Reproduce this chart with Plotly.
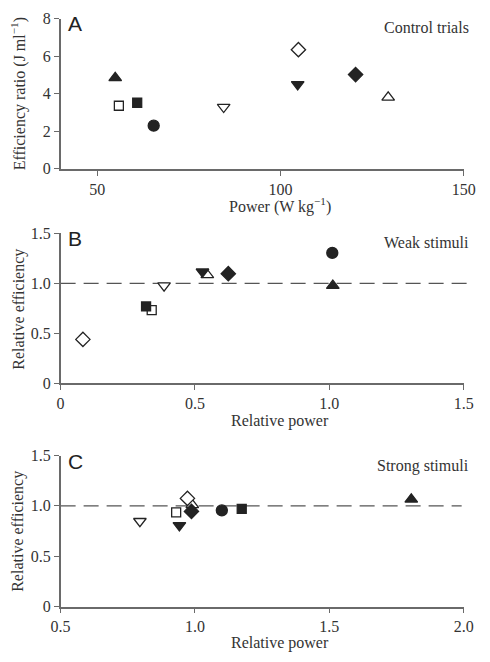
import plotly.graph_objects as go

# symbols for the nine subjects (same order in every panel)
symbols = ['triangle-up', 'square', 'square', 'circle', 'triangle-down',
           'diamond', 'triangle-down', 'diamond', 'triangle-up']
filled = [True, False, True, True, False, False, True, True, False]

# Panel A: control trials
a_power = [54.9, 55.9, 60.9, 65.4, 84.5, 104.9, 104.7, 120.5, 129.4]
a_eff = [4.85, 3.36, 3.52, 2.30, 3.29, 6.35, 4.50, 5.02, 3.81]

# Panel B: weak stimuli
b_power = [1.013, 0.339, 0.318, 1.011, 0.385, 0.083, 0.528, 0.624, 0.546]
b_eff = [0.977, 0.733, 0.770, 1.305, 0.977, 0.440, 1.116, 1.097, 1.084]

# Panel C: strong stimuli
c_power = [1.805, 0.930, 1.174, 1.100, 0.795, 0.972, 0.942, 0.987, 0.990]
c_eff = [1.065, 0.935, 0.970, 0.955, 0.847, 1.074, 0.805, 0.945, 1.010]

ref_level = 1.0

DARK = '#232323'
AX = '#6a6a6a'
SERIF = 'Liberation Serif'
FS = 16
W, H = 490.0, 662.0

fig = go.Figure()

sizes = {'circle': 11, 'square': 9, 'triangle-up': 11, 'triangle-down': 11, 'diamond': 11}

# draw order: open markers first, filled on top
order = [1, 4, 5, 8, 0, 2, 3, 6, 7]
order_c = [8, 1, 4, 5, 0, 2, 3, 6, 7]

panels = [('x', 'y', a_power, a_eff, order),
          ('x2', 'y2', b_power, b_eff, order),
          ('x3', 'y3', c_power, c_eff, order_c)]

for xa, ya, xs, ys, ordr in panels:
    for i in ordr:
        s = symbols[i]
        fig.add_trace(go.Scatter(
            x=[xs[i]], y=[ys[i]], xaxis=xa, yaxis=ya, mode='markers',
            marker=dict(symbol=s, size=sizes[s],
                        color=DARK if filled[i] else 'white',
                        line=dict(color=DARK, width=1.3)),
            showlegend=False, hoverinfo='x+y'))

# dashed reference lines at relative efficiency 1.0 (B and C)
for yref, xref, x1 in [('y2', 'x2 domain', 1.025), ('y3', 'x3 domain', 0.995)]:
    fig.add_shape(type='line', xref=xref, yref=yref, x0=0, x1=x1,
                  y0=ref_level, y1=ref_level,
                  line=dict(color='#555555', width=1.3, dash='15px,8px'),
                  layer='below')

xdom = [53 / W, 475 / W]
def dom(top, bot):
    return [1 - bot / H, 1 - top / H]

axis_common = dict(showline=True, linecolor=AX, linewidth=1.5, ticks='outside',
                   ticklen=5, tickwidth=1.3, tickcolor=AX, showgrid=False,
                   zeroline=False, mirror=False,
                   tickfont=dict(family=SERIF, size=FS, color='#333333'))

fig.update_layout(
    width=W, height=H, margin=dict(l=0, r=0, t=0, b=0),
    plot_bgcolor='white', paper_bgcolor='white',
    xaxis=dict(domain=xdom, range=[40, 150], tickvals=[50, 100, 150],
               anchor='y', **axis_common),
    yaxis=dict(domain=dom(11, 165), range=[0, 8], tickvals=[0, 2, 4, 6, 8],
               anchor='x', **axis_common),
    xaxis2=dict(domain=xdom, range=[0, 1.5], tickvals=[0, 0.5, 1.0, 1.5],
                ticktext=['0', '0.5', '1.0', '1.5'], anchor='y2', **axis_common),
    yaxis2=dict(domain=dom(231.3, 385.3), range=[0, 1.5], tickvals=[0, 0.5, 1.0, 1.5],
                ticktext=['0', '0.5', '1.0', '1.5'], anchor='x2', **axis_common),
    xaxis3=dict(domain=xdom, range=[0.5, 2.0], tickvals=[0.5, 1.0, 1.5, 2.0],
                ticktext=['0.5', '1.0', '1.5', '2.0'], anchor='y3', **axis_common),
    yaxis3=dict(domain=dom(459.3, 614.3), range=[0, 1.5], tickvals=[0, 0.5, 1.0, 1.5],
                ticktext=['0', '0.5', '1.0', '1.5'], anchor='x3', **axis_common),
)

def ann(text, x, y, xanchor='center', yanchor='middle', size=FS, family=SERIF,
        angle=0, color='#333333'):
    fig.add_annotation(text=text, x=x / W, y=1 - y / H, xref='paper', yref='paper',
                       xanchor=xanchor, yanchor=yanchor, showarrow=False,
                       textangle=angle, font=dict(family=family, size=size, color=color))

# axis titles
ann('Power (W kg<sup>−1</sup>)', 283, 203)
ann('Relative power', 283, 424)
ann('Relative power', 283, 652)
ann('Efficiency ratio (J ml<sup>−1</sup>)', 9, 88, angle=-90)
ann('Relative efficiency', 9, 309, angle=-90)
ann('Relative efficiency', 9, 537, angle=-90)

# panel letters
ann('A', 59, 16, xanchor='left', size=21, family='Liberation Sans', color='#222222')
ann('B', 59, 237, xanchor='left', size=21, family='Liberation Sans', color='#222222')
ann('C', 59, 465, xanchor='left', size=21, family='Liberation Sans', color='#222222')

# condition labels
ann('Control trials', 483, 20, xanchor='right')
ann('Weak stimuli', 483, 241, xanchor='right')
ann('Strong stimuli', 483, 470, xanchor='right')

fig.write_html('out.html')
